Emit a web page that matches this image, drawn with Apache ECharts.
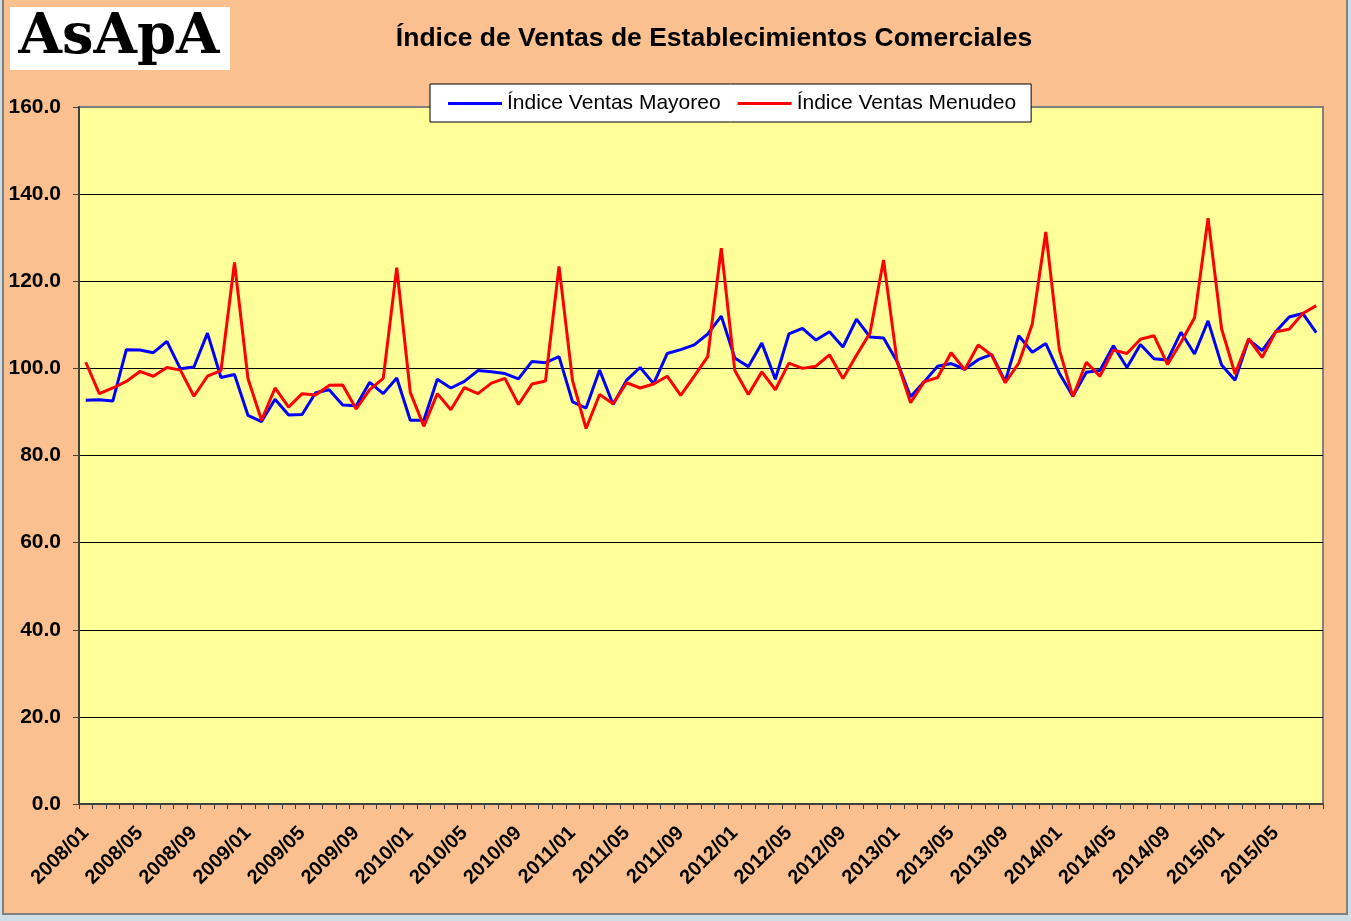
<!DOCTYPE html>
<html>
<head>
<meta charset="utf-8">
<script src="https://cdn.jsdelivr.net/npm/echarts@6/dist/echarts.min.js"></script>
<style>
  html, body { margin: 0; padding: 0; background: #cfdde5; }
  #panel { position: absolute; left: 2px; top: -2px; width: 1346px; height: 917px; box-sizing: border-box;
           background: #fac090; border: 2px solid #7f7f7f; }
  #chart { position: absolute; left: 0; top: 0; width: 1351px; height: 921px; }
</style>
</head>
<body>
<div id="panel"></div>
<div id="chart"></div>
<script>
// meses 2008/01 .. 2015/08
var years = [2008, 2009, 2010, 2011, 2012, 2013, 2014, 2015];
var months = ['01', '02', '03', '04', '05', '06', '07', '08', '09', '10', '11', '12'];
var lastMonthIdx = 7; // 2015/08

var categories = [];
years.forEach(function (y, yi) {
  months.forEach(function (m, mi) {
    if (yi < years.length - 1 || mi <= lastMonthIdx) categories.push(y + '/' + m);
  });
});

var mayoreo = [
  92.7, 92.8, 92.5, 104.3, 104.2, 103.6, 106.2, 99.9, 100.3, 108.1, 97.9, 98.6,
  89.2, 87.8, 92.9, 89.3, 89.4, 94.4, 95.1, 91.6, 91.4, 96.8, 94.2, 97.8,
  88.1, 88.1, 97.5, 95.5, 97.0, 99.5, 99.2, 98.8, 97.6, 101.6, 101.3, 102.7,
  92.3, 90.9, 99.6, 91.7, 97.3, 100.2, 96.5, 103.4, 104.3, 105.4, 107.9, 112.0,
  102.4, 100.4, 105.8, 97.5, 107.9, 109.2, 106.5, 108.4, 104.9, 111.3, 107.2, 107.0,
  101.6, 93.5, 96.9, 100.5, 101.1, 99.8, 102.0, 103.2, 97.0, 107.5, 103.7, 105.7,
  98.9, 93.6, 99.1, 99.5, 105.2, 100.2, 105.5, 102.2, 101.9, 108.3, 103.3, 110.9,
  100.8, 97.3, 106.6, 104.1, 108.4, 111.8, 112.6, 108.2
];

var menudeo = [
  101.4, 94.2, 95.5, 97.0, 99.3, 98.2, 100.2, 99.6, 93.6, 98.2, 99.5, 124.3,
  97.6, 88.1, 95.5, 91.1, 94.2, 93.9, 96.1, 96.2, 90.7, 95.1, 97.7, 123.1,
  94.5, 86.7, 94.2, 90.5, 95.6, 94.2, 96.6, 97.7, 91.7, 96.4, 97.1, 123.4,
  97.2, 86.2, 94.0, 91.9, 96.7, 95.5, 96.4, 98.2, 93.8, 98.2, 102.7, 127.6,
  99.5, 94.0, 99.2, 95.1, 101.2, 100.0, 100.5, 103.1, 97.7, 103.0, 108.1, 124.9,
  101.6, 92.1, 96.9, 97.9, 103.6, 99.7, 105.4, 103.0, 96.7, 101.2, 110.2, 131.3,
  104.3, 93.5, 101.4, 98.2, 104.2, 103.4, 106.7, 107.5, 100.9, 106.0, 111.6, 134.5,
  109.1, 98.7, 106.8, 102.5, 108.4, 109.0, 112.6, 114.4
];

var chart = echarts.init(document.getElementById('chart'));

var option = {
  animation: false,
  backgroundColor: 'transparent',
  textStyle: { fontFamily: '"Liberation Sans", Arial, sans-serif', color: '#000' },
  title: {
    text: 'Índice de Ventas de Establecimientos Comerciales',
    left: 714,
    top: 25,
    padding: 0,
    textAlign: 'center',
    textStyle: { fontSize: 26.5, fontWeight: 'bold', color: '#000' }
  },
  graphic: [
    {
      type: 'rect',
      shape: { x: 10, y: 7, width: 220, height: 63 },
      style: { fill: '#ffffff' }
    },
    {
      type: 'text',
      style: {
        text: 'AsApA',
        x: 119, y: 10,
        textAlign: 'center',
        textVerticalAlign: 'top',
        font: 'bold 56px "DejaVu Serif", serif',
        fill: '#000'
      }
    }
  ],
  legend: {
    left: 430,
    top: 84,
    padding: [9, 15, 8, 18],
    backgroundColor: '#ffffff',
    borderColor: '#000',
    borderWidth: 1,
    borderRadius: 0,
    icon: 'rect',
    itemWidth: 54,
    itemHeight: 3,
    itemGap: 17,
    textStyle: { fontSize: 21, color: '#000' },
    data: ['Índice Ventas Mayoreo', 'Índice Ventas Menudeo']
  },
  grid: {
    left: 79,
    right: 28,
    top: 107,
    bottom: 117,
    show: true,
    backgroundColor: '#ffff99',
    borderColor: '#808080',
    borderWidth: 2
  },
  xAxis: {
    type: 'category',
    data: categories,
    boundaryGap: true,
    axisLine: { lineStyle: { color: '#404040', width: 2 } },
    axisTick: { show: true, interval: 0, length: 5, lineStyle: { color: '#404040', width: 1 } },
    axisLabel: {
      interval: 3,
      rotate: 45,
      margin: 26,
      fontSize: 20,
      fontWeight: 'bold',
      color: '#000'
    },
    splitLine: { show: false }
  },
  yAxis: {
    type: 'value',
    min: 0,
    max: 160,
    interval: 20,
    axisLine: { show: true, lineStyle: { color: '#404040', width: 2 } },
    axisTick: { show: true, length: 6, lineStyle: { color: '#404040', width: 1 } },
    axisLabel: {
      margin: 18,
      fontSize: 21,
      fontWeight: 'bold',
      color: '#000',
      formatter: function (v) { return v.toFixed(1); }
    },
    splitLine: { show: true, showMinLine: false, showMaxLine: false, lineStyle: { color: '#000', width: 1 } }
  },
  series: [
    {
      name: 'Índice Ventas Mayoreo',
      type: 'line',
      data: mayoreo,
      symbol: 'none',
      lineStyle: { color: '#0000ff', width: 3 },
      itemStyle: { color: '#0000ff' }
    },
    {
      name: 'Índice Ventas Menudeo',
      type: 'line',
      data: menudeo,
      symbol: 'none',
      lineStyle: { color: '#ff0000', width: 3 },
      itemStyle: { color: '#ff0000' }
    }
  ]
};

chart.setOption(option);
</script>
</body>
</html>
